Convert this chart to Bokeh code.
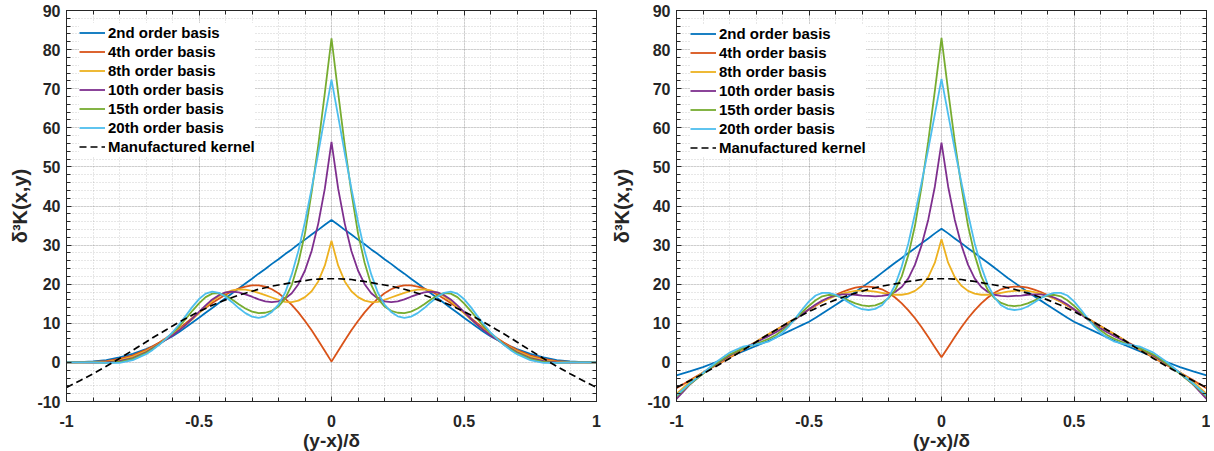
import numpy as np
from bokeh.plotting import figure
from bokeh.layouts import row
from bokeh.models import FixedTicker, LinearAxis, Range1d
from bokeh.embed import file_html
from bokeh.resources import INLINE

# ---------------- data ----------------
X = [-1, -0.95, -0.9, -0.85, -0.8, -0.75, -0.7, -0.675, -0.65, -0.625, -0.6, -0.575,
     -0.55, -0.525, -0.5, -0.475, -0.45, -0.425, -0.4, -0.375, -0.35, -0.325, -0.3,
     -0.275, -0.25, -0.225, -0.2, -0.175, -0.15, -0.125, -0.1, -0.075, -0.05, -0.025,
     0, 0.025, 0.05, 0.075, 0.1, 0.125, 0.15, 0.175, 0.2, 0.225, 0.25, 0.275, 0.3,
     0.325, 0.35, 0.375, 0.4, 0.425, 0.45, 0.475, 0.5, 0.525, 0.55, 0.575, 0.6, 0.625,
     0.65, 0.675, 0.7, 0.75, 0.8, 0.85, 0.9, 0.95, 1]

KERNEL = [-6.4, -4.7, -2.9, -1.0, 1.0, 3.1, 5.2, 6.3, 7.3, 8.3, 9.3, 10.3, 11.2, 12.1,
          13.0, 13.8, 14.6, 15.3, 16.0, 16.6, 17.2, 17.7, 18.2, 18.7, 19.1, 19.5, 19.8,
          20.1, 20.4, 20.7, 20.9, 21.2, 21.3, 21.4,
          21.4, 21.4, 21.3, 21.2, 20.9, 20.7, 20.4, 20.1, 19.8, 19.5, 19.1, 18.7, 18.2,
          17.7, 17.2, 16.6, 16.0, 15.3, 14.6, 13.8, 13.0, 12.1, 11.2, 10.3, 9.3, 8.3,
          7.3, 6.3, 5.2, 3.1, 1.0, -1.0, -2.9, -4.7, -6.4]

# left panel
L2 = [0.0, 0.05, 0.25, 0.6, 1.3, 2.2, 3.4, 4.1, 4.9, 5.8, 6.7, 7.8, 9.0, 10.2, 11.4,
      12.7, 13.9, 15.2, 16.4, 17.7, 18.9, 20.2, 21.4, 22.7, 23.9, 25.2, 26.4, 27.7,
      28.9, 30.2, 31.4, 32.7, 33.9, 35.2,
      36.4, 35.2, 33.9, 32.7, 31.4, 30.2, 28.9, 27.7, 26.4, 25.2, 23.9, 22.7, 21.4,
      20.2, 18.9, 17.7, 16.4, 15.2, 13.9, 12.7, 11.4, 10.2, 9.0, 7.8, 6.7, 5.8, 4.9,
      4.1, 3.4, 2.2, 1.3, 0.6, 0.25, 0.05, 0.0]
L4 = [0.0, 0.0, 0.1, 0.35, 0.9, 1.8, 3.2, 4.1, 5.1, 6.2, 7.4, 8.7, 10.0, 11.4, 12.7,
      14.0, 15.2, 16.3, 17.3, 18.2, 18.9, 19.4, 19.7, 19.7, 19.4, 18.7, 17.7, 16.3,
      14.7, 12.8, 10.6, 8.2, 5.6, 2.9,
      0.2, 2.9, 5.6, 8.2, 10.6, 12.8, 14.7, 16.3, 17.7, 18.7, 19.4, 19.7, 19.7, 19.4,
      18.9, 18.2, 17.3, 16.3, 15.2, 14.0, 12.7, 11.4, 10.0, 8.7, 7.4, 6.2, 5.1, 4.1,
      3.2, 1.8, 0.9, 0.35, 0.1, 0.0, 0.0]
L8 = [0.0, 0.0, 0.0, 0.15, 0.6, 1.5, 2.9, 3.8, 4.8, 6.0, 7.2, 8.4, 9.6, 11.0, 12.6,
      14.2, 15.7, 16.9, 17.8, 18.4, 18.7, 18.6, 18.3, 17.8, 17.2, 16.6, 16.0, 15.5,
      15.4, 15.8, 16.7, 18.2, 20.7, 24.8,
      31.1, 24.8, 20.7, 18.2, 16.7, 15.8, 15.4, 15.5, 16.0, 16.6, 17.2, 17.8, 18.3,
      18.6, 18.7, 18.4, 17.8, 16.9, 15.7, 14.2, 12.6, 11.0, 9.6, 8.4, 7.2, 6.0, 4.8,
      3.8, 2.9, 1.5, 0.6, 0.15, 0.0, 0.0, 0.0]
L10 = [0.0, 0.0, -0.05, 0.0, 0.3, 1.1, 2.6, 3.6, 4.7, 5.8, 6.9, 8.2, 9.6, 11.2, 12.9,
       14.6, 16.1, 17.2, 17.9, 18.1, 17.9, 17.4, 16.8, 16.1, 15.6, 15.4, 15.6, 16.3,
       17.7, 20.0, 23.5, 28.5, 35.5, 44.5,
       56.4, 44.5, 35.5, 28.5, 23.5, 20.0, 17.7, 16.3, 15.6, 15.4, 15.6, 16.1, 16.8,
       17.4, 17.9, 18.1, 17.9, 17.2, 16.1, 14.6, 12.9, 11.2, 9.6, 8.2, 6.9, 5.8, 4.7,
       3.6, 2.6, 1.1, 0.3, 0.0, -0.05, 0.0, 0.0]
L15 = [0.0, 0.0, 0.0, -0.1, 0.1, 0.9, 2.4, 3.4, 4.6, 6.0, 7.5, 9.2, 11.1, 13.2, 15.1,
       16.7, 17.6, 17.7, 17.1, 16.1, 14.9, 13.8, 13.0, 12.6, 12.7, 13.2, 14.3, 16.3,
       19.8, 25.5, 33.0, 43.5, 55.5, 69.0,
       82.9, 69.0, 55.5, 43.5, 33.0, 25.5, 19.8, 16.3, 14.3, 13.2, 12.7, 12.6, 13.0,
       13.8, 14.9, 16.1, 17.1, 17.7, 17.6, 16.7, 15.1, 13.2, 11.1, 9.2, 7.5, 6.0, 4.6,
       3.4, 2.4, 0.9, 0.1, -0.1, 0.0, 0.0, 0.0]
L20 = [0.0, 0.0, 0.0, -0.1, -0.1, 0.6, 2.1, 3.2, 4.5, 6.0, 7.7, 9.7, 11.9, 14.2, 16.2,
       17.6, 18.1, 17.8, 16.8, 15.4, 13.9, 12.6, 11.7, 11.4, 11.8, 12.9, 14.8, 17.8,
       22.5, 28.5, 36.0, 44.5, 53.5, 63.0,
       72.3, 63.0, 53.5, 44.5, 36.0, 28.5, 22.5, 17.8, 14.8, 12.9, 11.8, 11.4, 11.7,
       12.6, 13.9, 15.4, 16.8, 17.8, 18.1, 17.6, 16.2, 14.2, 11.9, 9.7, 7.7, 6.0, 4.5,
       3.2, 2.1, 0.6, -0.1, -0.1, 0.0, 0.0, 0.0]

# right panel
R2 = [-3.3, -2.3, -1.2, 0.1, 1.4, 2.8, 4.2, 4.9, 5.6, 6.4, 7.2, 8.0, 8.8, 9.6, 10.4,
      11.4, 12.5, 13.6, 14.7, 15.8, 16.9, 18.0, 19.2, 20.4, 21.6, 22.9, 24.2, 25.5,
      26.7, 28.0, 29.2, 30.5, 31.7, 33.0,
      34.2, 33.0, 31.7, 30.5, 29.2, 28.0, 26.7, 25.5, 24.2, 22.9, 21.6, 20.4, 19.2,
      18.0, 16.9, 15.8, 14.7, 13.6, 12.5, 11.4, 10.4, 9.6, 8.8, 8.0, 7.2, 6.4, 5.6,
      4.9, 4.2, 2.8, 1.4, 0.1, -1.2, -2.3, -3.3]
R4 = [-6.6, -4.6, -2.6, -0.7, 1.2, 3.2, 5.2, 6.3, 7.3, 8.3, 9.3, 10.3, 11.3, 12.4, 13.5,
      14.5, 15.5, 16.4, 17.2, 18.0, 18.6, 19.1, 19.4, 19.4, 19.2, 18.7, 17.8, 16.6,
      15.1, 13.3, 11.3, 9.0, 6.5, 3.9,
      1.3, 3.9, 6.5, 9.0, 11.3, 13.3, 15.1, 16.6, 17.8, 18.7, 19.2, 19.4, 19.4, 19.1,
      18.6, 18.0, 17.2, 16.4, 15.5, 14.5, 13.5, 12.4, 11.3, 10.3, 9.3, 8.3, 7.3, 6.3,
      5.2, 3.2, 1.2, -0.7, -2.6, -4.6, -6.6]
R8 = [-8.0, -5.0, -2.6, -0.5, 1.4, 3.4, 5.3, 6.3, 7.3, 8.2, 9.2, 10.2, 11.3, 12.5, 13.6,
      14.6, 15.5, 16.3, 17.0, 17.6, 18.0, 18.3, 18.4, 18.3, 18.1, 17.8, 17.5, 17.3,
      17.3, 17.6, 18.3, 19.6, 21.8, 25.5,
      31.5, 25.5, 21.8, 19.6, 18.3, 17.6, 17.3, 17.3, 17.5, 17.8, 18.1, 18.3, 18.4,
      18.3, 18.0, 17.6, 17.0, 16.3, 15.5, 14.6, 13.6, 12.5, 11.3, 10.2, 9.2, 8.2, 7.3,
      6.3, 5.3, 3.4, 1.4, -0.5, -2.6, -5.0, -8.0]
R10 = [-9.3, -5.7, -2.8, -0.4, 1.7, 3.6, 5.1, 6.0, 6.8, 7.7, 8.7, 9.8, 11.1, 12.4, 13.6,
       14.8, 15.8, 16.6, 17.1, 17.4, 17.4, 17.3, 17.1, 17.0, 16.9, 17.0, 17.3, 18.0,
       19.3, 21.5, 25.0, 30.0, 36.5, 45.0,
       56.2, 45.0, 36.5, 30.0, 25.0, 21.5, 19.3, 18.0, 17.3, 17.0, 16.9, 17.0, 17.1,
       17.3, 17.4, 17.4, 17.1, 16.6, 15.8, 14.8, 13.6, 12.4, 11.1, 9.8, 8.7, 7.7, 6.8,
       6.0, 5.1, 3.6, 1.7, -0.4, -2.8, -5.7, -9.3]
R15 = [-8.7, -5.6, -2.9, -0.3, 2.0, 3.6, 4.7, 5.4, 6.1, 7.0, 8.2, 9.6, 11.2, 12.9, 14.5,
       15.9, 16.9, 17.3, 17.1, 16.6, 15.8, 15.1, 14.6, 14.4, 14.6, 15.2, 16.4, 18.5,
       22.0, 27.5, 35.0, 45.0, 56.5, 69.5,
       83.0, 69.5, 56.5, 45.0, 35.0, 27.5, 22.0, 18.5, 16.4, 15.2, 14.6, 14.4, 14.6,
       15.1, 15.8, 16.6, 17.1, 17.3, 16.9, 15.9, 14.5, 12.9, 11.2, 9.6, 8.2, 7.0, 6.1,
       5.4, 4.7, 3.6, 2.0, -0.3, -2.9, -5.6, -8.7]
R20 = [-8.4, -5.4, -2.7, 0.1, 2.5, 4.0, 4.6, 4.9, 5.4, 6.3, 7.6, 9.3, 11.4, 13.6, 15.6,
       17.1, 17.8, 17.8, 17.3, 16.4, 15.3, 14.3, 13.6, 13.4, 13.7, 14.6, 16.6, 19.8,
       24.5, 30.5, 38.0, 46.0, 54.5, 63.5,
       72.5, 63.5, 54.5, 46.0, 38.0, 30.5, 24.5, 19.8, 16.6, 14.6, 13.7, 13.4, 13.6,
       14.3, 15.3, 16.4, 17.3, 17.8, 17.8, 17.1, 15.6, 13.6, 11.4, 9.3, 7.6, 6.3, 5.4,
       4.9, 4.6, 4.0, 2.5, 0.1, -2.7, -5.4, -8.4]

LABELS = ["2nd order basis", "4th order basis", "8th order basis",
          "10th order basis", "15th order basis", "20th order basis"]
KERNEL_LABEL = "Manufactured kernel"
COLORS = ["#0072BD", "#D95319", "#EDB120", "#7E2F8E", "#77AC30", "#4DBEEE"]

X_TICKS = [-1, -0.5, 0, 0.5, 1]
X_TICK_LABELS = ["-1", "-0.5", "0", "0.5", "1"]
Y_TICKS = [-10, 0, 10, 20, 30, 40, 50, 60, 70, 80, 90]
Y_TICK_LABELS = ["-10", "0", "10", "20", "30", "40", "50", "60", "70", "80", "90"]
X_LABEL = "(y-x)/δ"
Y_LABEL = "δ³K(x,y)"

# ---------------- styling ----------------
FONT = "Liberation Sans"
TXT = "#262626"
X_MINOR = [round(v, 2) for v in np.arange(-1.0, 1.001, 0.1)]
Y_MINOR = list(range(-10, 91, 2))


def style_axis(ax, show_labels, ticks=None):
    ax.axis_line_color = TXT
    ax.axis_line_width = 1
    ax.major_tick_line_color = TXT
    ax.minor_tick_line_color = TXT
    ax.major_tick_in = 5
    ax.major_tick_out = 0
    ax.minor_tick_in = 4
    ax.minor_tick_out = 0
    ax.major_label_text_font = FONT
    ax.major_label_text_font_style = "bold"
    ax.major_label_text_color = TXT
    ax.major_label_text_font_size = "16px"
    if not show_labels:
        ax.major_label_overrides = {t: "" for t in ticks}
        ax.major_label_standoff = 0


def make_panel(series, min_left, min_right, leg_margin, ylab_standoff):
    p = figure(frame_width=530, frame_height=391,
               x_range=Range1d(-1, 1), y_range=Range1d(-10, 90),
               output_backend="svg", toolbar_location=None,
               min_border_left=min_left, min_border_right=min_right,
               min_border_top=10, min_border_bottom=10,
               background_fill_color="white", border_fill_color="white")
    xt = FixedTicker(ticks=X_TICKS, minor_ticks=X_MINOR)
    yt = FixedTicker(ticks=Y_TICKS, minor_ticks=Y_MINOR)
    p.xaxis.ticker = xt
    p.yaxis.ticker = yt
    p.xaxis.major_label_overrides = dict(zip(X_TICKS, X_TICK_LABELS))
    p.yaxis.major_label_overrides = dict(zip(Y_TICKS, Y_TICK_LABELS))
    for ax in p.xaxis + p.yaxis:
        style_axis(ax, True)
    p.xaxis.major_label_standoff = 13
    p.yaxis.major_label_standoff = 6
    p.xaxis.axis_label = X_LABEL
    p.yaxis.axis_label = Y_LABEL
    for ax in p.xaxis + p.yaxis:
        ax.axis_label_text_font = FONT
        ax.axis_label_text_font_style = "bold"
        ax.axis_label_text_color = TXT
    p.xaxis.axis_label_text_font_size = "19px"
    p.yaxis.axis_label_text_font_size = "20px"
    p.xaxis.axis_label_standoff = 0
    p.yaxis.axis_label_standoff = ylab_standoff

    top = LinearAxis(ticker=xt)
    style_axis(top, False, X_TICKS)
    right = LinearAxis(ticker=yt)
    style_axis(right, False, Y_TICKS)
    p.add_layout(top, "above")
    p.add_layout(right, "right")

    p.outline_line_color = TXT
    p.outline_line_width = 1

    p.xgrid.grid_line_color = TXT
    p.ygrid.grid_line_color = TXT
    p.xgrid.grid_line_alpha = 0.13
    p.ygrid.grid_line_alpha = 0.13
    p.xgrid.minor_grid_line_color = TXT
    p.ygrid.minor_grid_line_color = TXT
    p.xgrid.minor_grid_line_alpha = 0.22
    p.ygrid.minor_grid_line_alpha = 0.22
    p.xgrid.minor_grid_line_dash = "1 2"
    p.ygrid.minor_grid_line_dash = "1 2"

    for ys, lab, col in zip(series, LABELS, COLORS):
        p.line(X, ys, line_color=col, line_width=1.8, legend_label=lab)
    p.line(X, KERNEL, line_color="black", line_width=1.7, line_dash="7 4",
           legend_label=KERNEL_LABEL)

    lg = p.legend[0]
    lg.location = "top_left"
    lg.margin = leg_margin
    lg.padding = 7
    lg.spacing = 0
    lg.glyph_width = 26
    lg.glyph_height = 19
    lg.label_height = 19
    lg.label_standoff = 3
    lg.label_text_font = FONT
    lg.label_text_font_style = "bold"
    lg.label_text_font_size = "15px"
    lg.label_text_color = "black"
    lg.border_line_color = None
    lg.background_fill_color = "white"
    lg.background_fill_alpha = 1.0
    return p


p1 = make_panel([L2, L4, L8, L10, L15, L20], 66, 10, 13, 3)
p2 = make_panel([R2, R4, R8, R10, R15, R20], 70, 4, 14, 11)

layout = row(p1, p2)
open("out.html", "w").write(file_html(layout, INLINE))
